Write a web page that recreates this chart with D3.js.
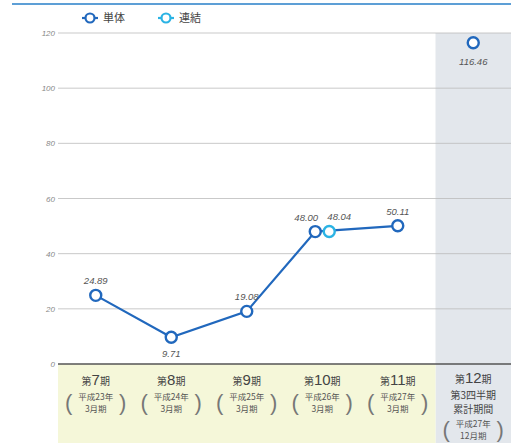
<!DOCTYPE html>
<html><head><meta charset="utf-8">
<script src="https://cdn.jsdelivr.net/npm/d3@7"></script>
<style>body{margin:0;background:#fff;font-family:"Noto Sans CJK JP","Noto Sans",sans-serif}</style>
</head><body><svg id="c" width="514" height="443"></svg>
<script>
const periods = ["7","8","9","10","11","12"];
const subLines = [
  ["平成23年","3月期"],["平成24年","3月期"],["平成25年","3月期"],
  ["平成26年","3月期"],["平成27年","3月期"],["平成27年","12月期"]
];
const extraLines12 = ["第3四半期","累計期間"];
const tanTai = [24.89, 9.71, 19.08, 48.00, 50.11, 116.46];
const renketsu = [null, null, null, 48.04, null, null];
const yTicks = [0,20,40,60,80,100,120];

const svg = d3.select("#c");
const L=58, R=511, T=33, B=364;
const x = d3.scaleBand().domain(periods).range([L,R]);
const y = d3.scaleLinear().domain([0,120]).range([B,T]);
const blue="#2168bd", cyan="#2bb3e4";

// backgrounds
svg.append("rect").attr("x",x("12")).attr("y",T).attr("width",R-x("12")).attr("height",443-T).attr("fill","#e3e7ec");
svg.append("rect").attr("x",L).attr("y",B).attr("width",x("12")-L).attr("height",443-B).attr("fill","#f5f7d9");

// top line
svg.append("line").attr("x1",12).attr("x2",511).attr("y1",4).attr("y2",4).attr("stroke","#5d9fd6").attr("stroke-width",2);

// grid
const g = svg.append("g");
yTicks.forEach(t=>{
  g.append("line").attr("x1",L).attr("x2",R).attr("y1",y(t)).attr("y2",y(t))
   .attr("stroke",t===0?"#555":"#bbb").attr("stroke-width",t===0?1.6:0.8);
  g.append("text").attr("x",L-3).attr("y",y(t)+3).attr("text-anchor","end")
   .attr("font-size",8).attr("font-style","italic").attr("fill","#888").attr("font-family","Liberation Sans").text(t);
});

// points
const cx = (p,i)=> x(p)+x.bandwidth()/2 + (i===3 ? -7 : 0);
const linePts = periods.slice(0,5).map((p,i)=>[cx(p,i), y(tanTai[i])]);
svg.append("path").attr("d",d3.line()(linePts)).attr("fill","none").attr("stroke",blue).attr("stroke-width",2.2);

periods.forEach((p,i)=>{
  svg.append("circle").attr("cx",cx(p,i)).attr("cy",y(tanTai[i])).attr("r",5.5)
    .attr("fill","#fff").attr("stroke",blue).attr("stroke-width",2.4);
});
renketsu.forEach((v,i)=>{
  if(v==null) return;
  svg.append("circle").attr("cx",x(periods[i])+x.bandwidth()/2+7).attr("cy",y(v)).attr("r",5.5)
    .attr("fill","#fff").attr("stroke",cyan).attr("stroke-width",2.4);
});

// value labels
const lab = (tx,ty,s)=>svg.append("text").attr("x",tx).attr("y",ty).attr("text-anchor","middle")
  .attr("font-size",9.5).attr("font-style","italic").attr("fill","#555").attr("font-family","Liberation Sans").text(s);
periods.forEach((p,i)=>{
  const px=cx(p,i), py=y(tanTai[i]);
  if(i===1) lab(px, py+20, tanTai[i].toFixed(2));
  else if(i===5) lab(px, py+22, tanTai[i].toFixed(2));
  else lab(px-(i===3?9:0), py-11, tanTai[i].toFixed(2));
});
renketsu.forEach((v,i)=>{ if(v!=null) lab(x(periods[i])+x.bandwidth()/2+17, y(v)-11, v.toFixed(2)); });

// category labels
periods.forEach((p,i)=>{
  const c = x(p)+x.bandwidth()/2;
  const t = svg.append("text").attr("x",c).attr("y",i===5?383:385).attr("text-anchor","middle").attr("fill","#444");
  t.append("tspan").attr("font-size",10).text("第");
  t.append("tspan").attr("font-size",15).attr("font-family","Liberation Sans").text(p);
  t.append("tspan").attr("font-size",10).text("期");
  let yy = 400;
  if(i===5){
    yy = 398.5;
    extraLines12.forEach(s=>{
      svg.append("text").attr("x",c).attr("y",yy).attr("text-anchor","middle").attr("font-size",10).attr("fill","#444").text(s);
      yy+=14;
    });
    yy = 427;
  }
  subLines[i].forEach((s,k)=>{
    svg.append("text").attr("x",c).attr("y",yy+k*11.5).attr("text-anchor","middle").attr("font-size",8.5).attr("fill","#555").text(s);
  });
  const w = 27;
  [["(",-1],[")",1]].forEach(([ch,d])=>{
    svg.append("text").attr("x",c+d*w).attr("y",yy+10).attr("text-anchor","middle").attr("font-size",22)
      .attr("fill","#777").attr("font-family","Liberation Sans").text(ch);
  });
});

// legend
const leg = [["単体",blue,90],["連結",cyan,166]];
leg.forEach(([s,col,lx])=>{
  svg.append("line").attr("x1",lx-8).attr("x2",lx+8).attr("y1",18).attr("y2",18).attr("stroke",col).attr("stroke-width",2.2);
  svg.append("circle").attr("cx",lx).attr("cy",18).attr("r",4.5).attr("fill","#fff").attr("stroke",col).attr("stroke-width",2.2);
  svg.append("text").attr("x",lx+13).attr("y",22).attr("font-size",11).attr("fill","#444").text(s);
});
</script></body></html>
